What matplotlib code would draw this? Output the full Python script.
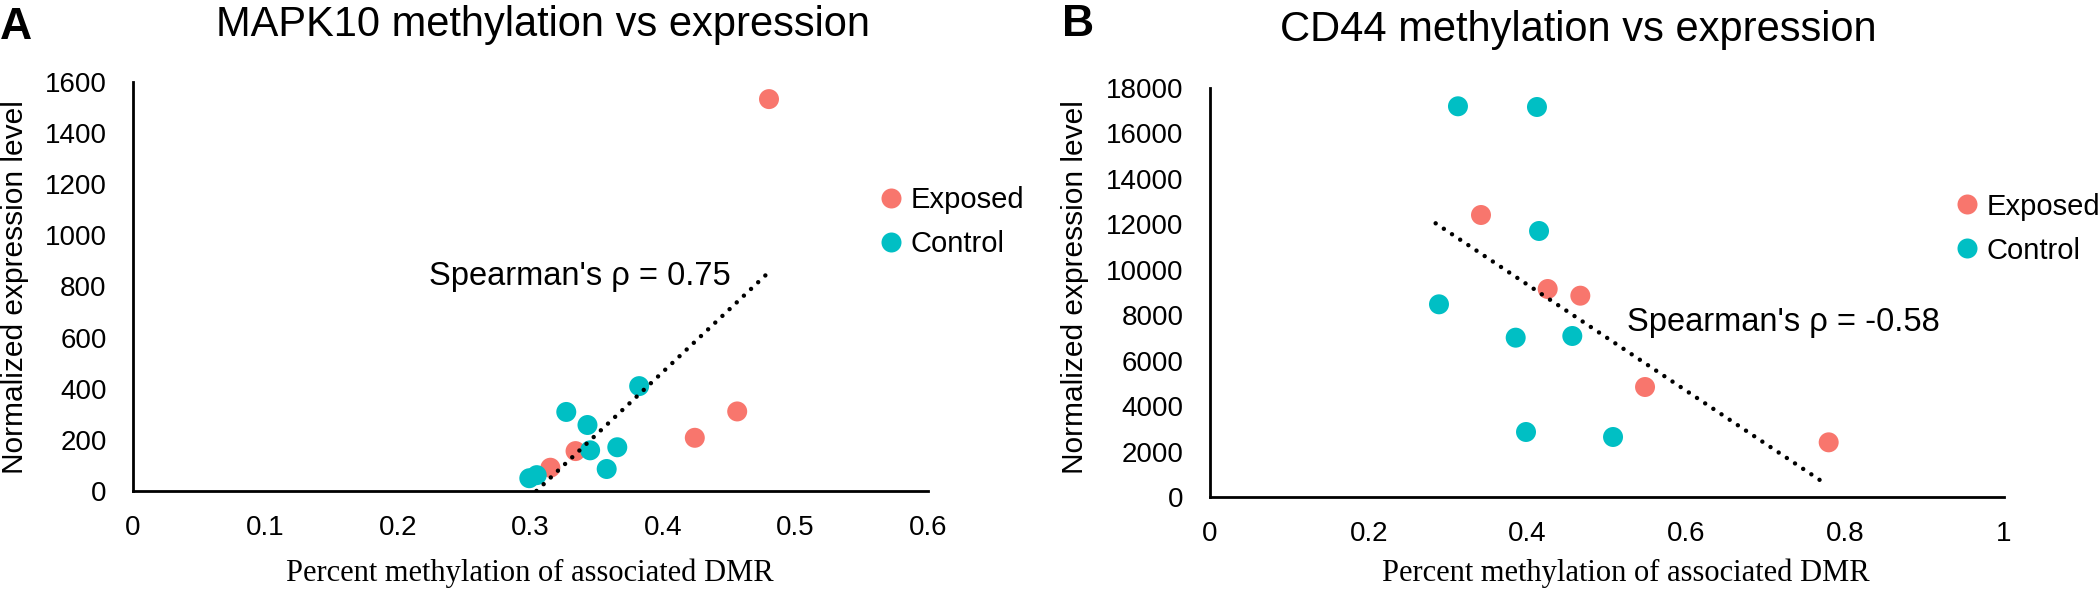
import matplotlib
matplotlib.use('Agg')
import matplotlib.pyplot as plt
from matplotlib.lines import Line2D

plt.rcParams['font.family'] = ['Liberation Sans', 'DejaVu Sans']

# 数据
# MAPK10
mapk_exp_x = [0.480, 0.456, 0.424, 0.334, 0.315]
mapk_exp_y = [1532, 311, 208, 156, 91]
mapk_ctl_x = [0.382, 0.327, 0.343, 0.345, 0.3655, 0.3575, 0.3047, 0.2991]
mapk_ctl_y = [410, 309, 258, 159, 171, 86, 62, 50]
mapk_trend_x = [0.2991, 0.480]
mapk_trend_y = [-26, 856]

# CD44
cd44_exp_x = [0.3413, 0.4253, 0.4664, 0.5479, 0.7792]
cd44_exp_y = [12411, 9154, 8860, 4841, 2406]
cd44_ctl_x = [0.3123, 0.4118, 0.4144, 0.2884, 0.385, 0.4563, 0.398, 0.5076]
cd44_ctl_y = [17195, 17164, 11707, 8480, 7012, 7086, 2861, 2641]
cd44_trend_x = [0.2842, 0.7712]
cd44_trend_y = [12045, 674]

exp_color = '#F8766D'
ctl_color = '#00BFC4'

W, H = 2100, 589
fig = plt.figure(figsize=(W / 100, H / 100), dpi=100)

panels = [
    dict(rect=[133 / W, 98 / H, 795 / W, 409.3 / H],
         exp=(mapk_exp_x, mapk_exp_y), ctl=(mapk_ctl_x, mapk_ctl_y),
         trend=(mapk_trend_x, mapk_trend_y),
         xlim=(0, 0.6), xticks=[0, 0.1, 0.2, 0.3, 0.4, 0.5, 0.6],
         xlabels=['0', '0.1', '0.2', '0.3', '0.4', '0.5', '0.6'],
         ylim=(0, 1600), yticks=range(0, 1601, 200),
         rho="Spearman's ρ = 0.75", rho_pos=(0.2234, 805),
         title='MAPK10 methylation vs expression', title_pos=(543, 36),
         letter='A', letter_pos=(0, 39),
         ylab_x=15, xlab_x=530, leg=(881, 222)),
    dict(rect=[1210 / W, 92 / H, 794 / W, 409 / H],
         exp=(cd44_exp_x, cd44_exp_y), ctl=(cd44_ctl_x, cd44_ctl_y),
         trend=(cd44_trend_x, cd44_trend_y),
         xlim=(0, 1), xticks=[0, 0.2, 0.4, 0.6, 0.8, 1.0],
         xlabels=['0', '0.2', '0.4', '0.6', '0.8', '1'],
         ylim=(0, 18000), yticks=range(0, 18001, 2000),
         rho="Spearman's ρ = -0.58", rho_pos=(0.5248, 7319),
         title='CD44 methylation vs expression', title_pos=(1578, 40.6),
         letter='B', letter_pos=(1062, 36),
         ylab_x=1075, xlab_x=1626, leg=(1957, 228.6)),
]

for p in panels:
    ax = fig.add_axes(p['rect'])
    ax.scatter(*p['exp'], s=207, color=exp_color, edgecolors='none', zorder=3, clip_on=False)
    ax.scatter(*p['ctl'], s=207, color=ctl_color, edgecolors='none', zorder=3, clip_on=False)
    ax.plot(*p['trend'], color='black', lw=3.2, linestyle=(0, (0.01, 2.2)),
            dash_capstyle='round', zorder=4)
    ax.set_xlim(*p['xlim'])
    ax.set_ylim(*p['ylim'])
    ax.set_xticks(p['xticks'])
    ax.set_xticklabels(p['xlabels'])
    ax.set_yticks(list(p['yticks']))
    ax.tick_params(axis='both', length=0, labelsize=20)
    ax.tick_params(axis='x', pad=17)
    ax.tick_params(axis='y', pad=19)
    for side in ['top', 'right']:
        ax.spines[side].set_visible(False)
    for side in ['left', 'bottom']:
        ax.spines[side].set_linewidth(2)
        ax.spines[side].set_color('black')
    ax.text(p['rho_pos'][0], p['rho_pos'][1], p['rho'], fontsize=23.5, va='baseline', ha='left')

    handles = [Line2D([], [], marker='o', ls='none', color=exp_color, markersize=14.4, markeredgewidth=0),
               Line2D([], [], marker='o', ls='none', color=ctl_color, markersize=14.4, markeredgewidth=0)]
    fig.legend(handles, ['Exposed', 'Control'], loc='center left',
               bbox_to_anchor=(p['leg'][0] / W, 1 - p['leg'][1] / H),
               frameon=False, fontsize=21, handlelength=0.7, handletextpad=0.3,
               borderpad=0, borderaxespad=0, labelspacing=0.55)

    fig.text(p['title_pos'][0] / W, 1 - p['title_pos'][1] / H, p['title'],
             fontsize=30, ha='center', va='baseline')
    fig.text(p['letter_pos'][0] / W, 1 - p['letter_pos'][1] / H, p['letter'],
             fontsize=32, fontweight='bold', ha='left', va='baseline')
    fig.text(p['ylab_x'] / W, 1 - 287.5 / H, 'Normalized expression level',
             fontsize=21.5, rotation=90, ha='center', va='center')
    fig.text(p['xlab_x'] / W, 1 - 573 / H, 'Percent methylation of associated DMR',
             fontsize=22, family='Liberation Serif', ha='center', va='center')

fig.savefig('out.png', dpi=100)
plt.close(fig)
